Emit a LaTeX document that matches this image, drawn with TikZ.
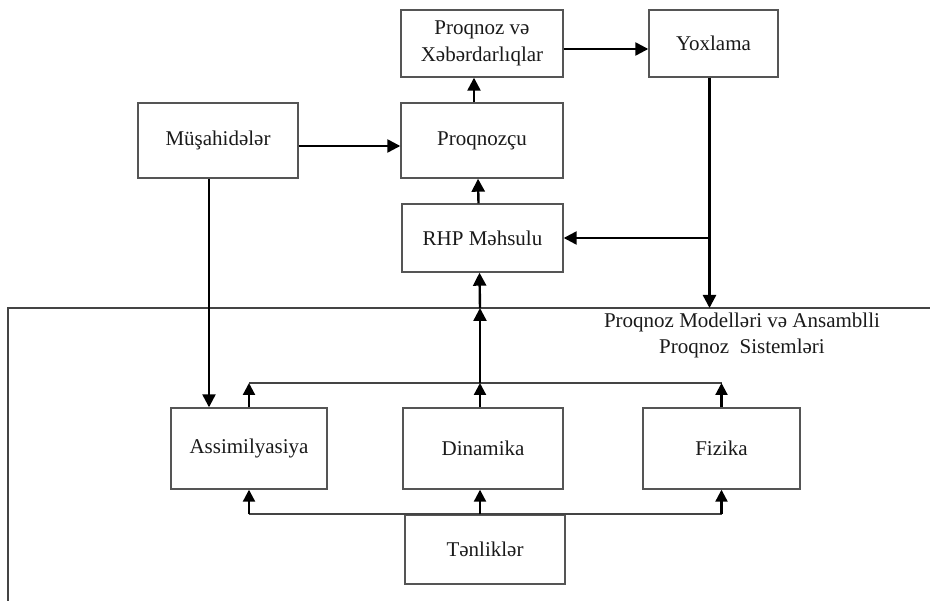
\documentclass[tikz,border=0pt]{standalone}
\usepackage{fontspec}
\setmainfont{Liberation Serif}
\usepackage{xcolor}
\usepackage{tikz}
\usetikzlibrary{arrows.meta,calc,positioning}
\definecolor{boxgray}{HTML}{555555}
\definecolor{framegray}{HTML}{444444}
\definecolor{textdark}{HTML}{1A1A1A}

\begin{document}
\begin{tikzpicture}[x=1pt,y=-1pt,
    block/.style={draw=boxgray, line width=1.4pt, fill=white, text=textdark,
        align=center, font=\fontsize{21}{27}\selectfont, inner sep=0pt},
    flow/.style={black, line width=2.4pt, -{Triangle[length=13pt,width=13pt]}},
    bus/.style={framegray, line width=1.6pt},
    busarrow/.style={black, line width=2.2pt, -{Triangle[length=12pt,width=12pt]}}]
    \useasboundingbox (0,0) rectangle (930,601);

    % boxes
    \node[block, minimum width=162pt, minimum height=67pt] (pvx) at (482,43.5) {Proqnoz və\\Xəbərdarlıqlar};
    \node[block, minimum width=129pt, minimum height=67pt] (yox) at (713.5,43.5) {Yoxlama};
    \node[block, minimum width=160pt, minimum height=75pt] (mush) at (218,140.5) {Müşahidələr};
    \node[block, minimum width=162pt, minimum height=75pt] (prog) at (482,140.5) {Proqnozçu};
    \node[block, minimum width=161pt, minimum height=68pt] (rhp) at (482.5,238) {RHP Məhsulu};
    \node[block, minimum width=156pt, minimum height=81pt] (assim) at (249,448.5) {Assimilyasiya};
    \node[block, minimum width=160pt, minimum height=81pt] (din) at (483,448.5) {Dinamika};
    \node[block, minimum width=157pt, minimum height=81pt] (fiz) at (721.5,448.5) {Fizika};
    \node[block, minimum width=160pt, minimum height=69pt] (tenl) at (485,549.5) {Tənliklər};

    % model frame
    \coordinate (FTL) at (8,308);
    \coordinate (FTR) at (930,308);
    \coordinate (FBL) at (8,601);
    \draw[bus] (FBL) -- (FTL) -- (FTR);
    \node[text=textdark, align=center, font=\fontsize{21}{26}\selectfont, anchor=north] (frametitle)
        at (742,309) {Proqnoz Modelləri və Ansamblli\\Proqnoz~ Sistemləri};

    % upper flow
    \draw[flow] (mush.east |- 0,146) -- (prog.west |- 0,146);
    \draw[flow] ([xshift=-8pt]prog.north) -- ([xshift=-8pt]pvx.south);
    \draw[flow] ([xshift=-4pt]rhp.north) -- ([xshift=-4pt]prog.south);
    \draw[flow] (pvx.east |- 0,49) -- (yox.west |- 0,49);

    \coordinate (YDOWN) at ([xshift=-4pt]yox.south);
    \draw[flow] (YDOWN) -- (YDOWN |- FTL);
    \draw[flow] (YDOWN |- rhp.east) -- (rhp.east);

    \draw[flow] ([xshift=-9pt]mush.south) -- ([xshift=-9pt]mush.south |- assim.north);

    % buses
    \coordinate (TOPBUS) at (0,383);
    \coordinate (BOTBUS) at (tenl.north);
    \draw[bus] (assim.north |- TOPBUS) -- (fiz.north |- TOPBUS);
    \draw[bus] (assim.south |- BOTBUS) -- (fiz.south |- BOTBUS);

    \draw[busarrow] (assim.north) -- (assim.north |- TOPBUS);
    \draw[busarrow] ([xshift=-3pt]din.north) -- ([xshift=-3pt]din.north |- TOPBUS);
    \draw[busarrow] (fiz.north) -- (fiz.north |- TOPBUS);
    \draw[flow] ([xshift=-3pt]din.north |- TOPBUS) -- ([xshift=-3pt]din.north |- FTL);
    \draw[flow] ([xshift=-3pt]din.north |- FTL) -- ([xshift=-3pt]rhp.south);

    \draw[busarrow] (assim.south |- BOTBUS) -- (assim.south);
    \draw[busarrow] ([xshift=-3pt]din.south |- BOTBUS) -- ([xshift=-3pt]din.south);
    \draw[busarrow] (fiz.south |- BOTBUS) -- (fiz.south);
\end{tikzpicture}
\end{document}
